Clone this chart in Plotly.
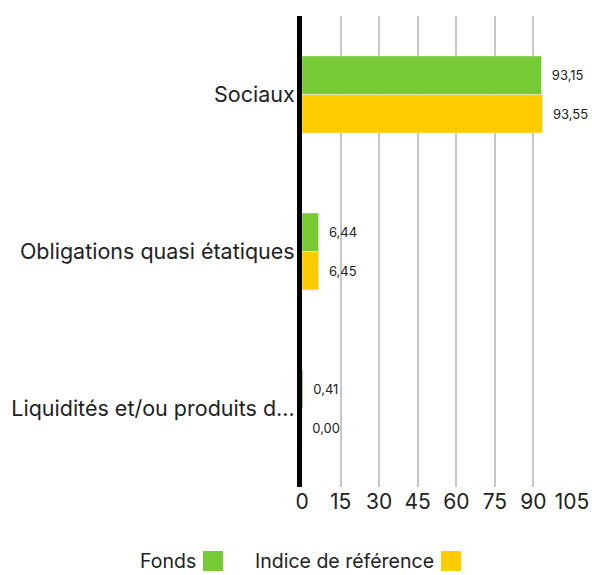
import plotly.graph_objects as go

categories = ["Sociaux", "Obligations quasi étatiques", "Liquidités et/ou produits d..."]
fonds = [93.15, 6.44, 0.41]
indice = [93.55, 6.45, 0.00]
fonds_labels = ["93,15", "6,44", "0,41"]
indice_labels = ["93,55", "6,45", "0,00"]
tick_vals = [0, 15, 30, 45, 60, 75, 90, 105]
series_names = ["Fonds", "Indice de référence"]
GREEN = "#76CA34"
YELLOW = "#FFCC00"
FONT = "Inter"
PAD = "\u00a0\u00a0"

W, H = 592, 575
ML, MR, MT, MB = 302, 20, 16, 88

fig = go.Figure()
fig.add_trace(go.Bar(y=categories, x=fonds, orientation="h", name=series_names[0],
                     marker_color=GREEN, text=[PAD + t for t in fonds_labels],
                     textposition="outside",
                     textfont=dict(size=13, color="#222", family=FONT), cliponaxis=False))
fig.add_trace(go.Bar(y=categories, x=indice, orientation="h", name=series_names[1],
                     marker_color=YELLOW, text=[PAD + t for t in indice_labels],
                     textposition="outside",
                     textfont=dict(size=13, color="#222", family=FONT), cliponaxis=False))

fig.update_layout(
    width=W, height=H,
    margin=dict(l=ML, r=MR, t=MT, b=MB),
    barmode="group", bargap=0.51, bargroupgap=0,
    plot_bgcolor="white", paper_bgcolor="white",
    font=dict(family=FONT, color="#222"),
    showlegend=False,
    xaxis=dict(range=[0, 105], tickvals=tick_vals, showgrid=True,
               gridcolor="#c6c6c6", gridwidth=2, zeroline=False,
               showline=False, tickfont=dict(size=21, color="#222"), ticks="",
               automargin=False),
    yaxis=dict(autorange="reversed", showline=True, linecolor="black", linewidth=5,
               tickfont=dict(size=21.5, color="#222"), ticks="", ticklabelstandoff=-2,
               automargin=False),
)

# legend: text followed by swatch
pw = W - ML - MR
ph = H - MT - MB
legend_items = [(series_names[0], GREEN, 198, 203), (series_names[1], YELLOW, 436, 441)]
for name, col, text_right, sw_left in legend_items:
    tx = (text_right - ML) / pw
    ty = (H - MB - 575) / ph
    fig.add_annotation(x=tx, y=ty, xref="paper", yref="paper",
                       text=name, showarrow=False, xanchor="right", yanchor="bottom",
                       font=dict(size=19.5, color="#222"))
    fig.add_shape(type="rect", xref="paper", yref="paper",
                  x0=(sw_left - ML) / pw, x1=(sw_left + 20 - ML) / pw,
                  y0=(H - MB - 571) / ph, y1=(H - MB - 551) / ph,
                  fillcolor=col, line=dict(width=0))

fig.write_html("out.html", config={"displayModeBar": False},
               post_script="document.body.style.margin='0';document.body.style.overflow='hidden';")
